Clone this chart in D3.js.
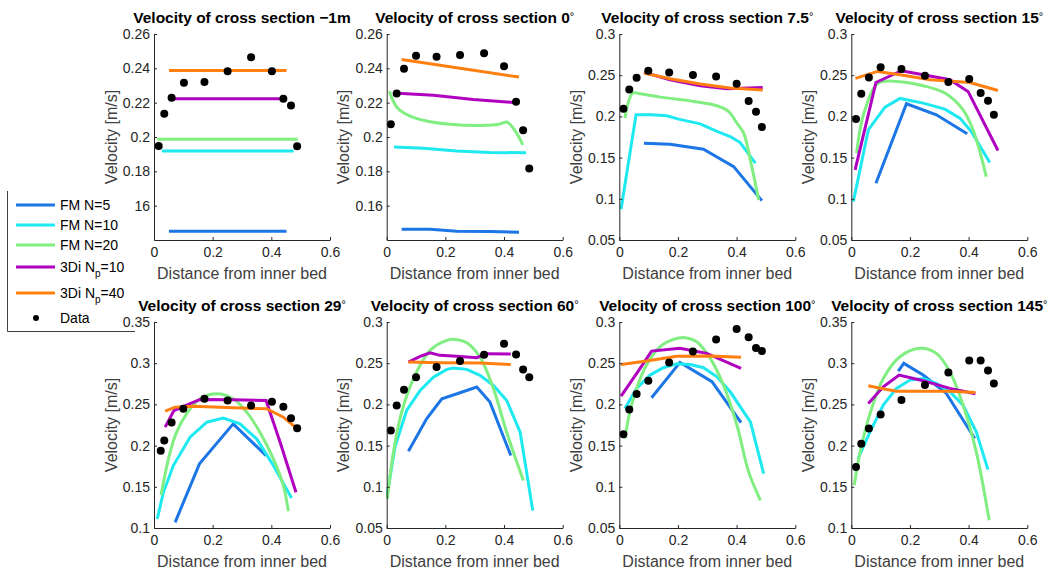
<!DOCTYPE html>
<html>
<head>
<meta charset="utf-8">
<script src="https://cdn.jsdelivr.net/npm/d3@7"></script>
<style>
  html, body { margin: 0; padding: 0; background: #fff; }
  svg { display: block; font-family: "Liberation Sans", Arial, sans-serif; }
</style>
</head>
<body>
<svg id="chart" width="1054" height="572"></svg>
<script>
// Section titles (degree sign appended where flagged)
const titleText = [
  "Velocity of cross section \u22121m", "Velocity of cross section 0",
  "Velocity of cross section 7.5", "Velocity of cross section 15",
  "Velocity of cross section 29", "Velocity of cross section 60",
  "Velocity of cross section 100", "Velocity of cross section 145"
];
const titleDegree = [false, true, true, true, true, true, true, true];

// Y axis ranges, ticks and tick labels per panel
const yDomains = [[0.14, 0.26], [0.14, 0.26], [0.05, 0.3], [0.05, 0.3],
                  [0.1, 0.35], [0.05, 0.3], [0.05, 0.3], [0.1, 0.35]];
const yTicks = [
  [0.16, 0.18, 0.2, 0.22, 0.24, 0.26], [0.16, 0.18, 0.2, 0.22, 0.24, 0.26],
  [0.05, 0.1, 0.15, 0.2, 0.25, 0.3], [0.05, 0.1, 0.15, 0.2, 0.25, 0.3],
  [0.1, 0.15, 0.2, 0.25, 0.3, 0.35], [0.05, 0.1, 0.15, 0.2, 0.25, 0.3],
  [0.05, 0.1, 0.15, 0.2, 0.25, 0.3], [0.1, 0.15, 0.2, 0.25, 0.3, 0.35]
];
const yTickLabels = [
  ["16", "0.18", "0.2", "0.22", "0.24", "0.26"], ["0.16", "0.18", "0.2", "0.22", "0.24", "0.26"],
  ["0.05", "0.1", "0.15", "0.2", "0.25", "0.3"], ["0.05", "0.1", "0.15", "0.2", "0.25", "0.3"],
  ["0.1", "0.15", "0.2", "0.25", "0.3", "0.35"], ["0.05", "0.1", "0.15", "0.2", "0.25", "0.3"],
  ["0.05", "0.1", "0.15", "0.2", "0.25", "0.3"], ["0.1", "0.15", "0.2", "0.25", "0.3", "0.35"]
];
const xTicks = [0, 0.2, 0.4, 0.6];
const xTickLabels = ["0", "0.2", "0.4", "0.6"];

// Model results: one [distance, velocity] polyline per cross section
const fmN5 = [
  [[0.051,0.1451],[0.452,0.1451]],
  [[0.051,0.1463],[0.148,0.1463],[0.239,0.1451],[0.352,0.1449],[0.451,0.1445]],
  [[0.084,0.1675],[0.173,0.1663],[0.287,0.1602],[0.39,0.1391],[0.486,0.0978]],
  [[0.084,0.1189],[0.188,0.2153],[0.29,0.2019],[0.395,0.1789]],
  [[0.072,0.1069],[0.155,0.1778],[0.27,0.2264],[0.382,0.1879]],
  [[0.074,0.1432],[0.136,0.1825],[0.188,0.2068],[0.25,0.2141],[0.307,0.221],[0.352,0.2028],[0.423,0.1379]],
  [[0.11,0.208],[0.207,0.251],[0.316,0.2275],[0.415,0.178]],
  [[0.16,0.2904],[0.179,0.2998],[0.245,0.2856],[0.324,0.2633],[0.421,0.2086]]
];
const fmN10 = [
  [[0.027,0.1919],[0.476,0.1919]],
  [[0.025,0.1942],[0.125,0.1935],[0.239,0.1919],[0.352,0.191],[0.475,0.1908]],
  [[0.006,0.0873],[0.057,0.2019],[0.11,0.2019],[0.162,0.2007],[0.202,0.1967],[0.276,0.191],[0.333,0.1817],[0.378,0.1756],[0.412,0.1683],[0.464,0.1432]],
  [[0.007,0.0966],[0.058,0.1837],[0.115,0.2113],[0.166,0.2218],[0.245,0.2161],[0.319,0.2088],[0.37,0.1979],[0.409,0.1817],[0.472,0.144]],
  [[0.011,0.1109],[0.032,0.1433],[0.066,0.1758],[0.123,0.2102],[0.18,0.2284],[0.236,0.2333],[0.293,0.2264],[0.35,0.2082],[0.407,0.1758],[0.469,0.1365]],
  [[0.002,0.0913],[0.028,0.1481],[0.068,0.1926],[0.114,0.2169],[0.159,0.2331],[0.205,0.2425],[0.227,0.2441],[0.273,0.2425],[0.318,0.2352],[0.364,0.223],[0.409,0.2048],[0.455,0.1663],[0.498,0.0711]],
  [[0.019,0.1951],[0.059,0.2194],[0.105,0.2356],[0.15,0.2445],[0.196,0.2494],[0.242,0.2485],[0.287,0.2445],[0.333,0.2335],[0.378,0.2153],[0.447,0.1789],[0.492,0.116]],
  [[0.023,0.1843],[0.064,0.2167],[0.109,0.2491],[0.154,0.2694],[0.2,0.2795],[0.245,0.2815],[0.29,0.2754],[0.336,0.2653],[0.381,0.2491],[0.426,0.2167],[0.466,0.1709]]
];
const fmN20 = [
  [[0.011,0.1987],[0.49,0.1987]],
  [[0.009,0.2267],[0.036,0.2171],[0.08,0.2122],[0.136,0.2093],[0.216,0.2074],[0.341,0.2068],[0.386,0.2076],[0.411,0.2086],[0.438,0.2035],[0.464,0.1954]],
  [[0.019,0.1979],[0.046,0.2283],[0.071,0.2275],[0.139,0.2234],[0.253,0.2182],[0.333,0.2129],[0.372,0.206],[0.401,0.1918],[0.424,0.1797],[0.449,0.1432],[0.475,0.0986]],
  [[0.018,0.1553],[0.043,0.204],[0.092,0.2404],[0.154,0.2425],[0.245,0.2372],[0.319,0.2283],[0.381,0.208],[0.415,0.1837],[0.443,0.1513],[0.46,0.127]],
  [[0.024,0.1401],[0.038,0.1656],[0.055,0.192],[0.077,0.2163],[0.111,0.2386],[0.157,0.2568],[0.214,0.2629],[0.27,0.2568],[0.316,0.2406],[0.361,0.2163],[0.407,0.1839],[0.441,0.1515],[0.458,0.1203]],
  [[0.002,0.0853],[0.023,0.142],[0.051,0.1906],[0.091,0.2311],[0.148,0.2656],[0.205,0.2777],[0.233,0.2789],[0.273,0.2749],[0.318,0.2575],[0.364,0.219],[0.409,0.1663],[0.466,0.1075]],
  [[0.019,0.1586],[0.036,0.191],[0.059,0.2194],[0.093,0.2477],[0.139,0.27],[0.185,0.2789],[0.224,0.281],[0.264,0.2761],[0.31,0.2558],[0.355,0.2234],[0.401,0.1748],[0.441,0.1181],[0.481,0.0836]],
  [[0.01,0.1519],[0.03,0.1924],[0.064,0.239],[0.109,0.2815],[0.166,0.3079],[0.234,0.318],[0.29,0.3119],[0.336,0.2896],[0.381,0.2491],[0.426,0.1924],[0.47,0.1093]]
];
const diNp10 = [
  [[0.051,0.2223],[0.447,0.2223]],
  [[0.023,0.2256],[0.159,0.2243],[0.295,0.2219],[0.443,0.22]],
  [[0.084,0.2534],[0.173,0.2445],[0.276,0.2372],[0.367,0.2335],[0.489,0.2352]],
  [[0.013,0.1351],[0.084,0.2412],[0.171,0.2554],[0.245,0.2506],[0.336,0.2445],[0.398,0.2303],[0.5,0.1586]],
  [[0.038,0.2224],[0.068,0.2426],[0.157,0.256],[0.27,0.2556],[0.382,0.2548],[0.43,0.2041],[0.484,0.1433]],
  [[0.074,0.2514],[0.114,0.2583],[0.148,0.2627],[0.182,0.2595],[0.239,0.2583],[0.307,0.2566],[0.341,0.2615],[0.423,0.2611]],
  [[0.006,0.21],[0.071,0.2437],[0.11,0.2647],[0.207,0.268],[0.298,0.2619],[0.415,0.2437]],
  [[0.058,0.2511],[0.109,0.2714],[0.163,0.2856],[0.245,0.2787],[0.336,0.2694],[0.423,0.2629]]
];
const diNp40 = [
  [[0.051,0.2387],[0.452,0.2387]],
  [[0.051,0.2451],[0.451,0.2349]],
  [[0.084,0.2526],[0.173,0.2457],[0.276,0.2392],[0.378,0.2344],[0.489,0.2319]],
  [[0.014,0.2461],[0.089,0.2546],[0.166,0.2506],[0.268,0.2445],[0.404,0.2412],[0.5,0.2315]],
  [[0.038,0.2418],[0.072,0.2467],[0.134,0.2479],[0.27,0.2459],[0.384,0.2447],[0.441,0.2345],[0.498,0.2175]],
  [[0.074,0.2514],[0.182,0.2506],[0.318,0.2502],[0.423,0.2485]],
  [[0.006,0.2485],[0.093,0.2526],[0.196,0.2583],[0.31,0.2587],[0.415,0.2571]],
  [[0.058,0.2726],[0.103,0.2694],[0.154,0.2661],[0.245,0.2661],[0.336,0.2661],[0.423,0.2645]]
];

// Measured velocities
const measured = [
  [[0.016,0.1948],[0.035,0.2136],[0.06,0.2229],[0.102,0.2316],[0.172,0.2321],[0.251,0.2383],[0.331,0.2465],[0.402,0.2383],[0.441,0.2223],[0.467,0.2184],[0.488,0.1946]],
  [[0.014,0.2074],[0.034,0.2254],[0.059,0.2397],[0.1,0.2474],[0.17,0.2467],[0.25,0.2478],[0.332,0.2488],[0.4,0.2412],[0.441,0.2205],[0.465,0.2039],[0.486,0.1817]],
  [[0.014,0.2092],[0.034,0.2327],[0.059,0.2469],[0.099,0.2554],[0.17,0.2534],[0.251,0.2502],[0.33,0.2485],[0.4,0.2396],[0.441,0.2186],[0.466,0.2056],[0.486,0.187]],
  [[0.016,0.1967],[0.034,0.2275],[0.06,0.2473],[0.1,0.2595],[0.171,0.2575],[0.251,0.2494],[0.331,0.2417],[0.402,0.2453],[0.441,0.2283],[0.466,0.219],[0.486,0.2019]],
  [[0.023,0.1936],[0.035,0.2062],[0.06,0.228],[0.1,0.2447],[0.172,0.2568],[0.251,0.2548],[0.331,0.2487],[0.402,0.2532],[0.441,0.2471],[0.467,0.2333],[0.488,0.2212]],
  [[0.014,0.1683],[0.034,0.1987],[0.059,0.2177],[0.1,0.2331],[0.17,0.2453],[0.25,0.2526],[0.332,0.2603],[0.4,0.2737],[0.441,0.2607],[0.465,0.2425],[0.486,0.2331]],
  [[0.014,0.1639],[0.034,0.1938],[0.059,0.2125],[0.099,0.2287],[0.17,0.251],[0.251,0.2643],[0.33,0.2789],[0.4,0.2915],[0.441,0.2814],[0.466,0.2684],[0.486,0.2647]],
  [[0.016,0.1741],[0.034,0.2021],[0.06,0.2207],[0.1,0.2378],[0.171,0.2552],[0.251,0.2734],[0.331,0.2888],[0.402,0.3034],[0.441,0.3034],[0.466,0.2912],[0.486,0.2754]]
];

const seriesLines = [fmN5, fmN10, fmN20, diNp10, diNp40];
const seriesColors = ["#1c76e6", "#1ee8f0", "#80ee80", "#b000c0", "#ff8010"];
// the fine-grid FM N=20 solution is drawn as a smooth curve
const seriesCurves = [d3.curveLinear, d3.curveLinear, d3.curveCatmullRom.alpha(0.5), d3.curveLinear, d3.curveLinear];

// ---- layout ----
const svg = d3.select("#chart");
const colLeft = [154, 386.7, 619.3, 851.3];
const rowTop = [34, 322];
const plotW = 176, plotH = 206;
const axisColor = "#262626";

for (let p = 0; p < 8; p++) {
  const left = colLeft[p % 4], top = rowTop[Math.floor(p / 4)];
  const g = svg.append("g").attr("transform", `translate(${left},${top})`);
  const x = d3.scaleLinear().domain([0, 0.6]).range([0, plotW]);
  const y = d3.scaleLinear().domain(yDomains[p]).range([plotH, 0]);

  // model lines
  seriesLines.forEach((s, i) => {
    const line = d3.line().x(d => x(d[0])).y(d => y(d[1])).curve(seriesCurves[i]);
    g.append("path").datum(s[p])
      .attr("d", line)
      .attr("fill", "none")
      .attr("stroke", seriesColors[i])
      .attr("stroke-width", 3);
  });

  // measured points
  g.selectAll("circle.m").data(measured[p]).enter().append("circle")
    .attr("cx", d => x(d[0])).attr("cy", d => y(d[1]))
    .attr("r", 4).attr("fill", "#000");

  // axes (MATLAB-like inward ticks)
  const yAxis = d3.axisLeft(y).tickValues(yTicks[p])
    .tickFormat((d, i) => yTickLabels[p][i])
    .tickSizeInner(-3).tickSizeOuter(0).tickPadding(4);
  const xAxis = d3.axisBottom(x).tickValues(xTicks)
    .tickFormat((d, i) => xTickLabels[i])
    .tickSizeInner(-3).tickSizeOuter(0).tickPadding(7);

  const ya = g.append("g").call(yAxis);
  const xa = g.append("g").attr("transform", `translate(0,${plotH})`).call(xAxis);
  [ya, xa].forEach(a => {
    a.select(".domain").attr("stroke", axisColor).attr("stroke-width", 1);
    a.selectAll(".tick line").attr("stroke", axisColor);
    a.selectAll(".tick text").attr("fill", axisColor)
      .attr("font-size", 14).attr("font-family", "Liberation Sans, Arial, sans-serif");
  });

  // title
  const t = g.append("text")
    .attr("x", plotW / 2).attr("y", -11.5)
    .attr("text-anchor", "middle")
    .attr("font-size", 15.5).attr("font-weight", "bold").attr("fill", "#000");
  t.append("tspan").text(titleText[p]);
  if (titleDegree[p]) {
    t.append("tspan").attr("font-size", 11).attr("font-weight", "normal")
      .attr("dy", -2.5).text("\u00b0");
  }

  // axis labels
  g.append("text")
    .attr("x", plotW / 2).attr("y", plotH + 38.5)
    .attr("text-anchor", "middle").attr("font-size", 16)
    .attr("fill", "#404040").text("Distance from inner bed");
  g.append("text")
    .attr("transform", `translate(-37.5,${plotH / 2}) rotate(-90)`)
    .attr("text-anchor", "middle").attr("font-size", 16)
    .attr("fill", "#404040").text("Velocity [m/s]");
}

// ---- legend ----
const legendNames = [["FM N=5"], ["FM N=10"], ["FM N=20"], ["3Di N", "p", "=10"], ["3Di N", "p", "=40"]];
const legendY = [205, 225, 245, 267, 293];
const lg = svg.append("g");
lg.append("path").attr("d", "M7.5,191V331.5H135")
  .attr("fill", "none").attr("stroke", "#404040").attr("stroke-width", 1);

legendNames.forEach((nm, i) => {
  lg.append("line").attr("x1", 16).attr("x2", 55)
    .attr("y1", legendY[i]).attr("y2", legendY[i])
    .attr("stroke", seriesColors[i]).attr("stroke-width", 3);
  const tx = lg.append("text").attr("x", 60).attr("y", legendY[i] + 5)
    .attr("font-size", 14).attr("fill", "#000");
  tx.append("tspan").text(nm[0]);
  if (nm.length > 1) {
    tx.append("tspan").attr("font-size", 10).attr("dy", 5).text(nm[1]);
    tx.append("tspan").attr("font-size", 14).attr("dy", -5).text(nm[2]);
  }
});
lg.append("circle").attr("cx", 36).attr("cy", 318).attr("r", 3).attr("fill", "#000");
lg.append("text").attr("x", 60).attr("y", 323).attr("font-size", 14).attr("fill", "#000").text("Data");
</script>
</body>
</html>
